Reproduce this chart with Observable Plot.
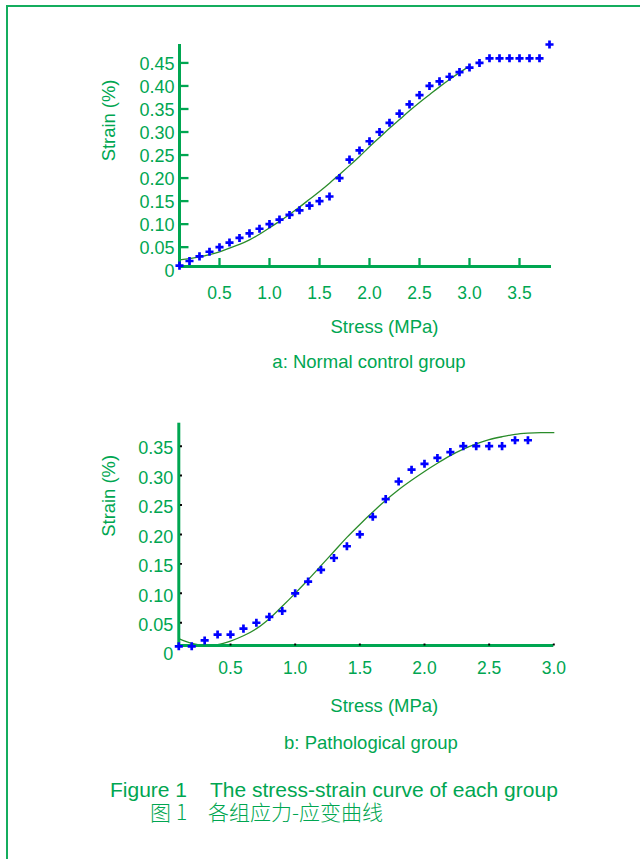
<!DOCTYPE html>
<html><head><meta charset="utf-8">
<script src="https://cdn.jsdelivr.net/npm/d3@7"></script>
<script src="https://cdn.jsdelivr.net/npm/@observablehq/plot@0.6"></script>
<style>
@font-face{font-family:"ZHCap";src:local("Noto Sans CJK SC Light"),local("NotoSansCJKsc-Light"),local("Noto Sans CJK SC"),local("NotoSansCJKsc-Regular");ascent-override:92%;descent-override:22%;line-gap-override:0%;}
body{margin:0;background:#fff;}
#page{position:relative;width:640px;height:859px;overflow:hidden;font-family:"Liberation Sans",Arial,sans-serif;color:#00a651;}
#border{position:absolute;left:6px;top:5px;width:700px;height:900px;border-left:2.5px solid #14ad5e;border-top:2.5px solid #14ad5e;}
.abs{position:absolute;white-space:nowrap;line-height:1;}
.cap{font-size:18.5px;transform:translateX(-50%);}
.fig{font-size:21px;}
.zh{font-family:"ZHCap","Noto Sans CJK SC",sans-serif;font-weight:300;font-size:21px;}
</style></head><body>
<div id="page">
<div id="border"></div>
<div id="chartA" class="abs" style="left:0;top:0"></div>
<div id="chartB" class="abs" style="left:0;top:380px"></div>
<div class="abs cap" style="left:369px;top:352.5px">a: Normal control group</div>
<div class="abs cap" style="left:371px;top:734px">b: Pathological group</div>
<div class="abs fig" style="left:110px;top:778.7px">Figure 1</div>
<div class="abs fig" style="left:210px;top:778.7px">The stress-strain curve of each group</div>
<div class="abs zh" style="left:150px;top:803px">图 1</div>
<div class="abs zh" style="left:208px;top:803px">各组应力-应变曲线</div>
</div>
<script>
// ---- Data: (a) Normal control group ----
const stressA = [0.1,0.2,0.3,0.4,0.5,0.6,0.7,0.8,0.9,1.0,1.1,1.2,1.3,1.4,1.5,1.6,1.7,1.8,1.9,2.0,2.1,2.2,2.3,2.4,2.5,2.6,2.7,2.8,2.9,3.0,3.1,3.2,3.3,3.4,3.5,3.6,3.7,3.8];
const strainA = [0.01,0.02,0.03,0.04,0.05,0.06,0.07,0.08,0.09,0.10,0.11,0.12,0.13,0.14,0.15,0.16,0.20,0.24,0.26,0.28,0.30,0.32,0.34,0.36,0.38,0.40,0.41,0.42,0.43,0.44,0.45,0.46,0.46,0.46,0.46,0.46,0.46,0.49];
const fitStressA = [0.1,0.2,0.3,0.4,0.5,0.6,0.7,0.8,0.9,1.0,1.1,1.2,1.3,1.4,1.5,1.6,1.7,1.8,1.9,2.0,2.1,2.2,2.3,2.4,2.5,2.6,2.7,2.8,2.9,3.0];
const fitStrainA = [0.0225,0.025,0.029,0.034,0.040,0.048,0.056,0.066,0.078,0.092,0.106,0.121,0.137,0.154,0.171,0.189,0.208,0.227,0.247,0.268,0.288,0.308,0.327,0.346,0.364,0.381,0.398,0.414,0.429,0.443];
const xTicksA = [0.5,1.0,1.5,2.0,2.5,3.0,3.5];
const yTicksA = [0,0.05,0.10,0.15,0.20,0.25,0.30,0.35,0.40,0.45];

// ---- Data: (b) Pathological group ----
const stressB = [0.1,0.2,0.3,0.4,0.5,0.6,0.7,0.8,0.9,1.0,1.1,1.2,1.3,1.4,1.5,1.6,1.7,1.8,1.9,2.0,2.1,2.2,2.3,2.4,2.5,2.6,2.7,2.8];
const strainB = [0.01,0.01,0.02,0.03,0.03,0.04,0.05,0.06,0.07,0.10,0.12,0.14,0.16,0.18,0.20,0.23,0.26,0.29,0.31,0.32,0.33,0.34,0.35,0.35,0.35,0.35,0.36,0.36];
const fitStressB = [0.1,0.2,0.3,0.4,0.5,0.6,0.7,0.8,0.9,1.0,1.1,1.2,1.3,1.4,1.5,1.6,1.7,1.8,1.9,2.0,2.1,2.2,2.3,2.4,2.5,2.6,2.7,2.8,2.9,3.0];
const fitStrainB = [0.023,0.015,0.012,0.013,0.019,0.028,0.040,0.057,0.078,0.100,0.123,0.147,0.171,0.195,0.217,0.238,0.258,0.276,0.292,0.307,0.321,0.334,0.345,0.354,0.361,0.366,0.370,0.372,0.373,0.373];
const xTicksB = [0.5,1.0,1.5,2.0,2.5,3.0];
const yTicksB = [0,0.05,0.10,0.15,0.20,0.25,0.30,0.35];

const xLabel = "Stress (MPa)";
const yLabel = "Strain (%)";

// ---- styles ----
const green = "#00a651";
const fitColor = "#2a8c2a";
const pointColor = "#0000ff";
const font = "'Liberation Sans', Arial, sans-serif";
const fmtY = d => d === 0 ? "0" : d.toFixed(2);
const fmtX = d => d.toFixed(1);
const tickUp = {draw(ctx){ ctx.moveTo(0, 0); ctx.lineTo(0, -8.5); }};
const tickRight = {draw(ctx){ ctx.moveTo(0, 0); ctx.lineTo(9, 0); }};

const ptsA = stressA.map((s, i) => ({s, e: strainA[i]}));
const fitA = fitStressA.map((s, i) => ({s, e: fitStrainA[i]}));
const ptsB = stressB.map((s, i) => ({s, e: strainB[i]}));
const fitB = fitStressB.map((s, i) => ({s, e: fitStrainB[i]}));

function spaceLabels(svg){
  d3.select(svg).selectAll('g[aria-label="ylabels"] text').style("letter-spacing", "1.1px");
  return svg;
}

// ---- chart A ----
const baseA = 0.008, topA = 0.49;
const chartA = Plot.plot({
  width: 640, height: 300,
  marginTop: 44, marginBottom: 30.3, marginLeft: 179, marginRight: 89,
  x: {domain: [0.1, 3.82], axis: null},
  y: {domain: [0, topA], axis: null},
  style: {fontFamily: font, background: "transparent", overflow: "visible"},
  marks: [
    Plot.line(fitA, {x: "s", y: "e", stroke: fitColor, strokeWidth: 1.3, curve: "catmull-rom"}),
    Plot.ruleY([baseA], {stroke: green, strokeWidth: 3}),
    Plot.ruleX([0.1], {y1: baseA, y2: topA, stroke: green, strokeWidth: 3}),
    Plot.dot(xTicksA, {x: d => d, frameAnchor: "bottom", dy: -3.7, symbol: tickUp, fill: "none", stroke: green, strokeWidth: 2.3}),
    Plot.dot(yTicksA.filter(d => d > 0), {y: d => d, frameAnchor: "left", symbol: tickRight, fill: "none", stroke: green, strokeWidth: 2.3}),
    Plot.text(xTicksA, {x: d => d, text: fmtX, frameAnchor: "bottom", dy: 23, lineAnchor: "middle", fill: green, fontSize: 17.5}),
    Plot.text(yTicksA, {y: d => d, text: fmtY, frameAnchor: "left", textAnchor: "end", dx: -5, dy: 1, lineAnchor: "middle", fill: green, fontSize: 18, ariaLabel: "ylabels"}),
    Plot.text([xLabel], {text: d => d, frameAnchor: "bottom", dx: 19, dy: 56.5, lineAnchor: "middle", fill: green, fontSize: 18.5}),
    Plot.text([yLabel], {text: d => d, frameAnchor: "left", dx: -70, dy: 4, rotate: -90, lineAnchor: "middle", fill: green, fontSize: 18.4}),
    Plot.dot(ptsA, {x: "s", y: "e", symbol: "cross", r: 3.4, fill: pointColor, stroke: "none"})
  ]
});
document.getElementById("chartA").appendChild(spaceLabels(chartA));

// ---- chart B ----
const baseB = 0.0114, topB = 0.389;
const chartB = Plot.plot({
  width: 640, height: 300,
  marginTop: 42.7, marginBottom: 28.3, marginLeft: 178.3, marginRight: 86.7,
  x: {domain: [0.1, 3.0], axis: null},
  y: {domain: [0, topB], axis: null},
  style: {fontFamily: font, background: "transparent", overflow: "visible"},
  marks: [
    Plot.line(fitB, {x: "s", y: "e", stroke: fitColor, strokeWidth: 1.3, curve: "catmull-rom"}),
    Plot.ruleY([baseB], {stroke: green, strokeWidth: 3}),
    Plot.ruleX([0.1], {y1: baseB, y2: topB, stroke: green, strokeWidth: 3}),
    Plot.dot(xTicksB, {x: d => d, frameAnchor: "bottom", dy: -7.7, symbol: "square", r: 1.1, fill: "black", stroke: "none"}),
    Plot.dot(yTicksB.filter(d => d > 0), {y: d => d, frameAnchor: "left", dx: 2.2, symbol: "square", r: 1.1, fill: "black", stroke: "none"}),
    Plot.text(xTicksB, {x: d => d, text: fmtX, frameAnchor: "bottom", dy: 16, lineAnchor: "middle", fill: green, fontSize: 17.5}),
    Plot.text(yTicksB, {y: d => d, text: fmtY, frameAnchor: "left", textAnchor: "end", dx: -5.5, dy: 2.5, lineAnchor: "middle", fill: green, fontSize: 18, ariaLabel: "ylabels"}),
    Plot.text([xLabel], {text: d => d, frameAnchor: "bottom", dx: 18, dy: 54.3, lineAnchor: "middle", fill: green, fontSize: 18.5}),
    Plot.text([yLabel], {text: d => d, frameAnchor: "left", dx: -69.3, dy: -1, rotate: -90, lineAnchor: "middle", fill: green, fontSize: 18.4}),
    Plot.dot(ptsB, {x: "s", y: "e", symbol: "cross", r: 3.4, fill: pointColor, stroke: "none"})
  ]
});
document.getElementById("chartB").appendChild(spaceLabels(chartB));
</script>
</body></html>
